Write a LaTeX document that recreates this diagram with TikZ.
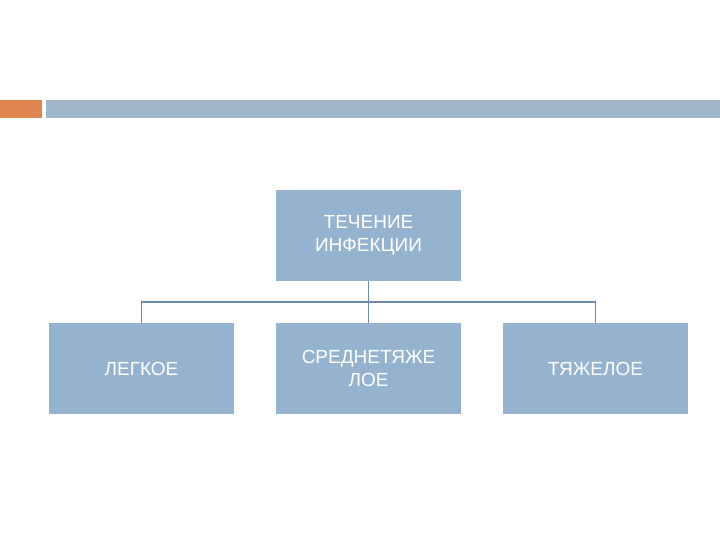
\documentclass[tikz,border=0pt]{standalone}
\usepackage{fontspec}
\setmainfont{Liberation Sans}
\definecolor{boxfill}{RGB}{149,179,207}
\definecolor{linec}{RGB}{110,140,172}
\definecolor{barblue}{RGB}{160,182,203}
\definecolor{barorange}{RGB}{224,132,80}
\begin{document}
\begin{tikzpicture}[x=1pt,y=-1pt,
  bx/.style={fill=boxfill,draw=none,minimum width=185pt,minimum height=91pt,
    text=white,align=center,font=\fontsize{19}{23}\selectfont,inner sep=0pt},
  conn/.style={draw=linec,line width=1.5pt}]
\useasboundingbox (0,0) rectangle (720,540);
\fill[barorange] (0,100) rectangle (42,118);
\fill[barblue] (46,100) rectangle (720,118);
\node[bx] (top) at (368.5,235.5) {ТЕЧЕНИЕ\\ИНФЕКЦИИ};
\node[bx] (a) at (141.5,368.5) {ЛЕГКОЕ};
\node[bx] (b) at (368.5,368.5) {СРЕДНЕТЯЖЕ\\ЛОЕ};
\node[bx] (c) at (595.5,368.5) {ТЯЖЕЛОЕ};
\coordinate (j) at (368.5,302);
\draw[conn] (top.south) -- (j);
\draw[conn] (j) -| (a.north);
\draw[conn] (j) -- (b.north);
\draw[conn] (j) -| (c.north);
\end{tikzpicture}
\end{document}
